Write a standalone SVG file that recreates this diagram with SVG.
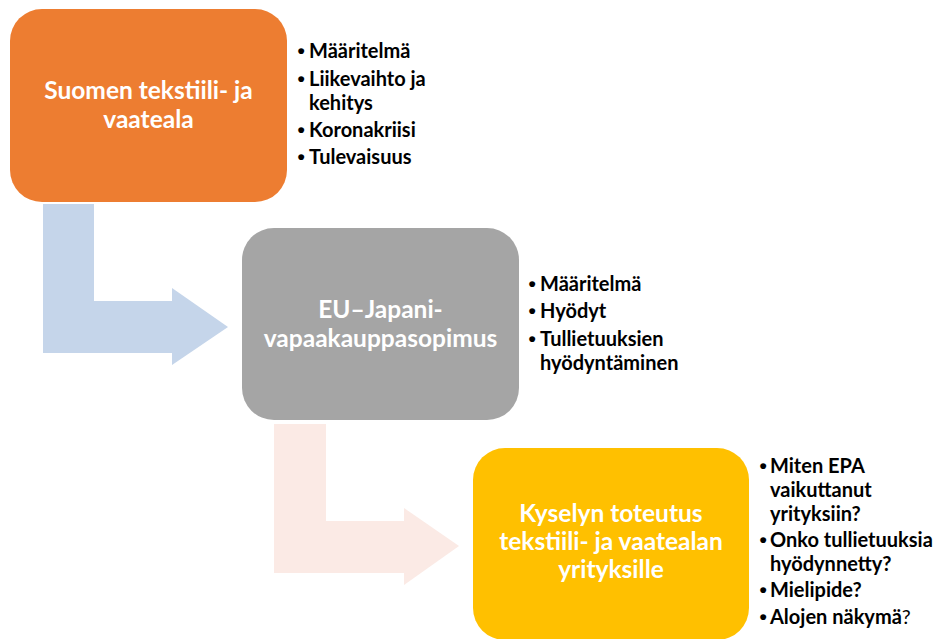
<svg xmlns="http://www.w3.org/2000/svg" width="936" height="639" viewBox="0 0 936 639">
<style>
.box-t{font-family:Lato,"Liberation Sans",sans-serif;font-weight:bold;font-size:24.5px;fill:#FFFFFF;text-anchor:middle}
.bul{font-family:Lato,"Liberation Sans",sans-serif;font-weight:bold;font-size:20px;fill:#000000}
.dot{font-family:"Liberation Sans",sans-serif;font-weight:bold;font-size:21px;fill:#000000}
.n{font-weight:normal}
</style>
<rect width="936" height="639" fill="#FFFFFF"/>
<g id="connectors">
<polygon id="arrow1" points="43,204 94,204 94,301 172,301 172,288 228,327 172,365 172,353 43,353" fill="#C5D5EA"/>
<polygon id="arrow2" points="274,424 326,424 326,521 404,521 404,508 459,546 404,585 404,573 274,573" fill="#FBEAE5"/>
</g>
<g id="node1">
<rect x="10" y="9" width="277" height="193" rx="32" ry="32" fill="#ED7D31"/>
<text class="box-t" x="148.5" y="99">Suomen tekstiili- ja</text>
<text class="box-t" x="148.5" y="128">vaateala</text>
</g>
<g id="list1">
<text class="dot" x="297.5" y="57.5">•</text><text class="bul" x="309" y="57.5">Määritelmä</text>
<text class="dot" x="297.5" y="86">•</text><text class="bul" x="309" y="86">Liikevaihto ja</text>
<text class="bul" x="309" y="109.5">kehitys</text>
<text class="dot" x="297.5" y="137">•</text><text class="bul" x="309" y="137">Koronakriisi</text>
<text class="dot" x="297.5" y="164">•</text><text class="bul" x="309" y="164">Tulevaisuus</text>
</g>
<g id="node2">
<rect x="242" y="228" width="277" height="192" rx="32" ry="32" fill="#A5A5A5"/>
<text class="box-t" x="380.5" y="318.3">EU–Japani-</text>
<text class="box-t" x="380.5" y="346.7">vapaakauppasopimus</text>
</g>
<g id="list2">
<text class="dot" x="528.5" y="291">•</text><text class="bul" x="540" y="291">Määritelmä</text>
<text class="dot" x="528.5" y="318.3">•</text><text class="bul" x="540" y="318.3">Hyödyt</text>
<text class="dot" x="528.5" y="346">•</text><text class="bul" x="540" y="346">Tullietuuksien</text>
<text class="bul" x="540" y="370">hyödyntäminen</text>
</g>
<g id="node3">
<rect x="473" y="448" width="276" height="192" rx="32" ry="32" fill="#FFC000"/>
<text class="box-t" x="611" y="521.7">Kyselyn toteutus</text>
<text class="box-t" x="611" y="550">tekstiili- ja vaatealan</text>
<text class="box-t" x="611" y="578.4">yrityksille</text>
</g>
<g id="list3">
<text class="dot" x="759.5" y="473">•</text><text class="bul" x="770" y="473">Miten EPA</text>
<text class="bul" x="770" y="497">vaikuttanut</text>
<text class="bul" x="770" y="521">yrityksiin?</text>
<text class="dot" x="759.5" y="547">•</text><text class="bul" x="770" y="547">Onko tullietuuksia</text>
<text class="bul" x="770" y="571">hyödynnetty?</text>
<text class="dot" x="759.5" y="597">•</text><text class="bul" x="770" y="597">Mielipide?</text>
<text class="dot" x="759.5" y="624">•</text><text class="bul" x="770" y="624">Alojen näkymä<tspan class="n">?</tspan></text>
</g>
</svg>
